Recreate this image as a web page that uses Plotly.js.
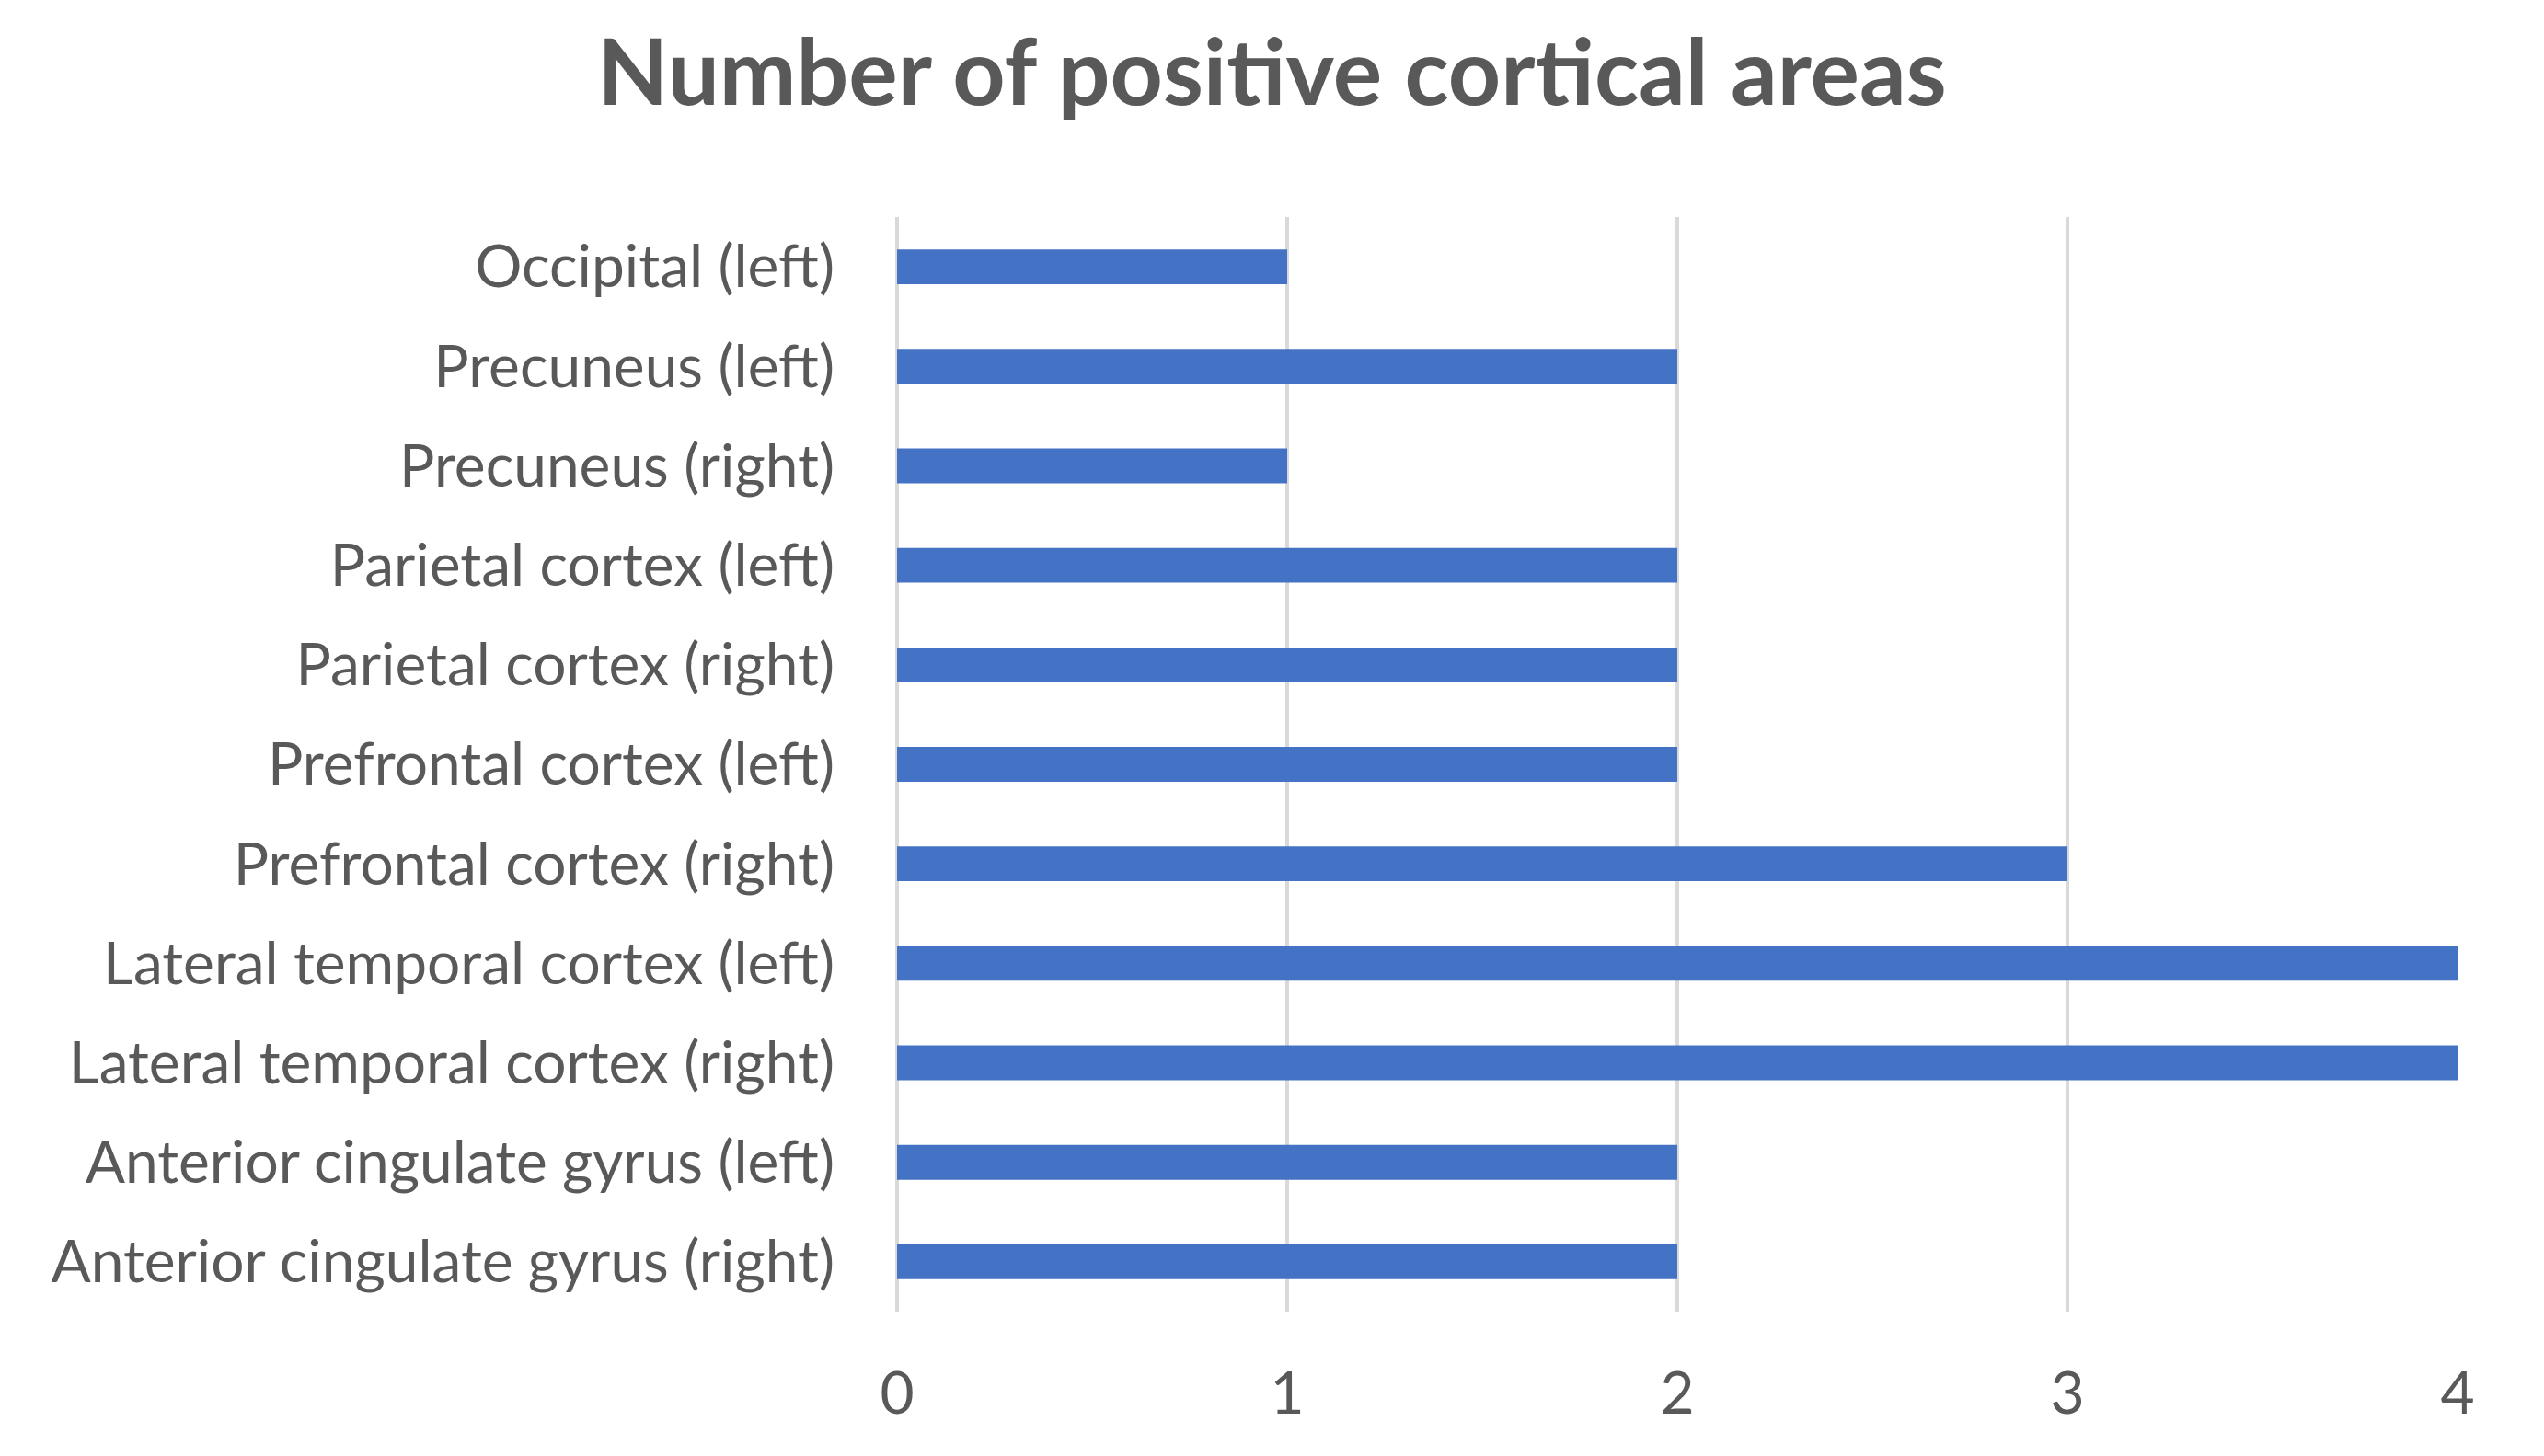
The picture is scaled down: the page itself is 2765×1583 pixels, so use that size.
<!DOCTYPE html>
<html>
<head>
<meta charset="utf-8">
<script src="https://cdn.plot.ly/plotly-3.0.1.min.js"></script>
<style>html,body{margin:0;padding:0;background:#fff;}#chart{width:2765px;height:1583px;}</style>
</head>
<body>
<div id="chart"></div>
<script>
const categories = [
  "Occipital (left)",
  "Precuneus (left)",
  "Precuneus (right)",
  "Parietal cortex (left)",
  "Parietal cortex (right)",
  "Prefrontal cortex (left)",
  "Prefrontal cortex (right)",
  "Lateral temporal cortex (left)",
  "Lateral temporal cortex (right)",
  "Anterior cingulate gyrus (left)",
  "Anterior cingulate gyrus (right)"
];
const counts = [1, 2, 1, 2, 2, 2, 3, 4, 4, 2, 2];
const xTicks = [0, 1, 2, 3, 4];
const chartTitle = "Number of positive cortical areas";

const trace = {
  type: "bar",
  orientation: "h",
  y: categories,
  x: counts,
  marker: {color: "#4472C4"},
  hoverinfo: "x+y"
};

const layout = {
  width: 2765,
  height: 1583,
  paper_bgcolor: "#ffffff",
  plot_bgcolor: "#ffffff",
  margin: {l: 975, r: 94, t: 236, b: 157, pad: 0},
  bargap: 0.65,
  showlegend: false,
  font: {family: "Lato, 'Open Sans', sans-serif", color: "#595959"},
  title: {
    text: "<b>" + chartTitle + "</b>",
    font: {family: "Lato, sans-serif", size: 100, color: "#595959"},
    xref: "container", x: 0.5, xanchor: "center",
    yref: "container", y: 1 - 79/1583, yanchor: "middle"
  },
  xaxis: {
    range: [0, 4],
    tickvals: xTicks,
    ticktext: xTicks.map(String),
    showgrid: true,
    gridcolor: "#d9d9d9",
    gridwidth: 4,
    zeroline: true,
    zerolinecolor: "#d9d9d9",
    zerolinewidth: 4,
    showline: false,
    ticks: "",
    ticklabelstandoff: 46,
    tickfont: {size: 64, color: "#595959", family: "Lato, sans-serif"},
    fixedrange: true
  },
  yaxis: {
    type: "category",
    autorange: "reversed",
    showgrid: false,
    zeroline: false,
    showline: false,
    ticks: "",
    ticklabelstandoff: 67,
    tickfont: {size: 64, color: "#595959", family: "Lato, sans-serif"},
    fixedrange: true
  }
};

Plotly.newPlot("chart", [trace], layout, {displayModeBar: false, staticPlot: true});
</script>
</body>
</html>
